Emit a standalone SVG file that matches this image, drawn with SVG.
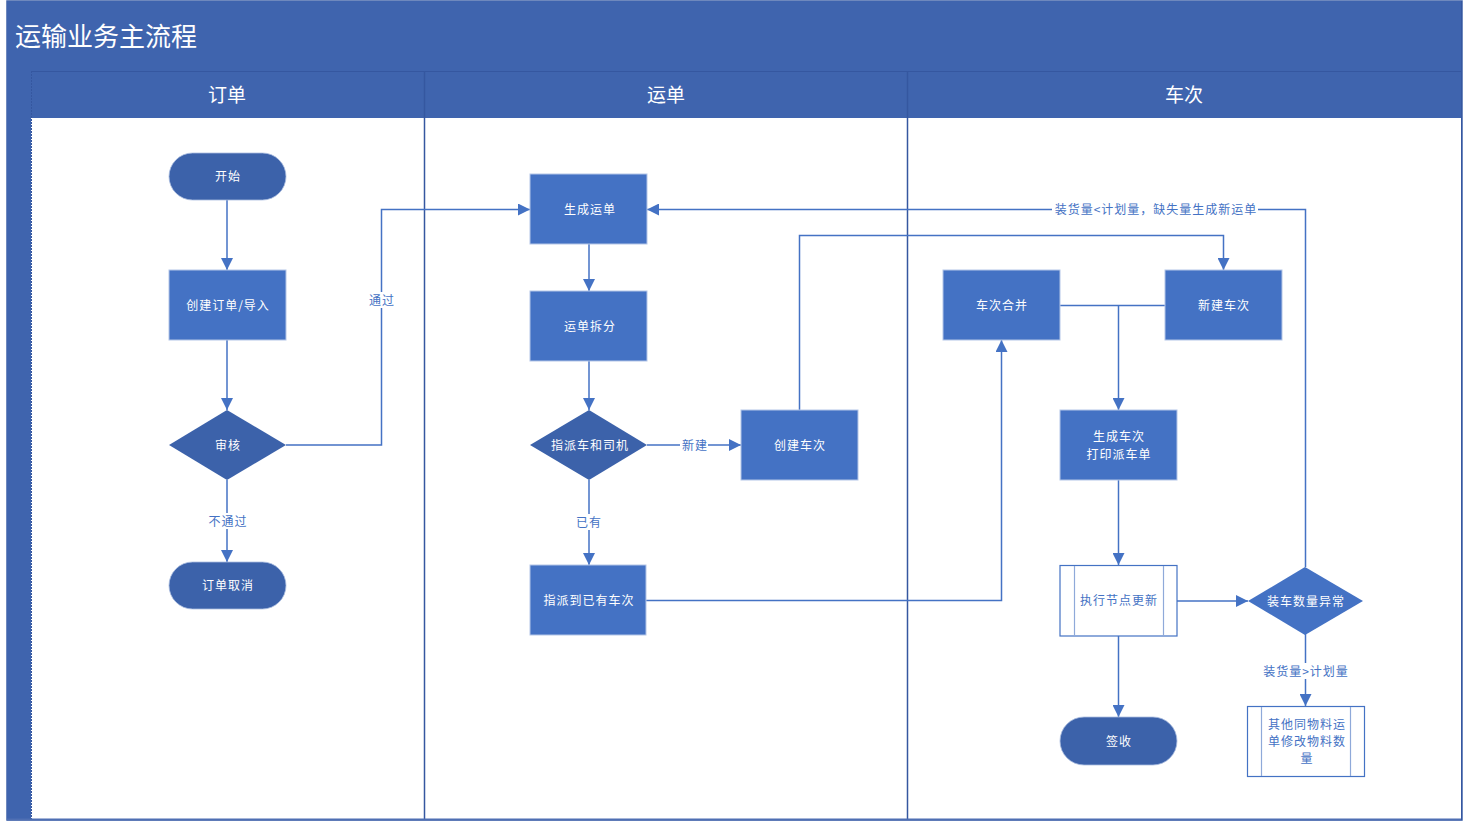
<svg xmlns="http://www.w3.org/2000/svg" width="1463" height="821" viewBox="0 0 1463 821">
<defs>
<style>
.t{font-family:"Noto Sans CJK SC","Microsoft YaHei",sans-serif;font-size:12px;fill:#ffffff;text-anchor:middle;dominant-baseline:central;letter-spacing:1px}
.tb{font-family:"Noto Sans CJK SC","Microsoft YaHei",sans-serif;font-size:12px;fill:#4472c4;text-anchor:middle;dominant-baseline:central;letter-spacing:1px}
.lbl{font-family:"Noto Sans CJK SC","Microsoft YaHei",sans-serif;font-size:12px;fill:#4472c4;text-anchor:middle;dominant-baseline:central;letter-spacing:1px}
.hd{font-family:"Noto Sans CJK SC","Microsoft YaHei",sans-serif;font-size:19px;fill:#ffffff;text-anchor:middle;dominant-baseline:central}
.term{fill:#3c62aa;stroke:#a9bde0;stroke-width:0.8}
.proc{fill:#4472c4;stroke:#b4c6e7;stroke-width:1}
.dec{fill:#3c62aa;stroke:none}
.dec2{fill:#4472c4;stroke:none}
.sub{fill:#ffffff;stroke:#4472c4;stroke-width:1.2}
.subl{stroke:#8fa9d9;stroke-width:1.2}
.c{fill:none;stroke:#4472c4;stroke-width:1.5}
.ca{fill:none;stroke:#4472c4;stroke-width:1.5;marker-end:url(#ah)}
.lb{fill:#ffffff}
</style>
<marker id="ah" viewBox="0 0 10 10" refX="10" refY="5" markerWidth="12" markerHeight="12" markerUnits="userSpaceOnUse" orient="auto">
<path d="M0,0 L10,5 L0,10 Z" fill="#4472c4"/>
</marker>
</defs>
<rect x="0" y="0" width="1463" height="821" fill="#ffffff"/>
<g id="pool">
<rect x="7" y="1" width="1455" height="819" fill="#ffffff" stroke="#3f62a8" stroke-width="1.5"/>
<rect x="7" y="1" width="1455" height="70" fill="#3f64ae"/>
<text x="15" y="34" font-family="'Noto Sans CJK SC','Microsoft YaHei',sans-serif" font-size="26" fill="#ffffff" dominant-baseline="central">运输业务主流程</text>
<rect x="7" y="71" width="1455" height="47" fill="#3f64ae"/>
<line x1="7" y1="71.5" x2="1462" y2="71.5" stroke="#3557a0" stroke-width="1"/>
<rect x="7" y="71" width="24" height="749" fill="#3f64ae"/>
<line x1="31.5" y1="71" x2="31.5" y2="820" stroke="#3557a0" stroke-width="1" stroke-dasharray="2,1"/>
<line x1="424.5" y1="71" x2="424.5" y2="820" stroke="#3557a0" stroke-width="1.5"/>
<line x1="907.5" y1="71" x2="907.5" y2="820" stroke="#3557a0" stroke-width="1.5"/>
<line x1="7" y1="819.5" x2="1462" y2="819.5" stroke="#4f6fb3" stroke-width="2"/>
<line x1="1461.5" y1="1" x2="1461.5" y2="820" stroke="#3557a0" stroke-width="1"/>
<text class="hd" x="227" y="93">订单</text>
<text class="hd" x="666" y="93">运单</text>
<text class="hd" x="1184" y="93">车次</text>
</g>
<g id="connectors">
<path class="ca" d="M227,200 L227,270"/>
<path class="ca" d="M227,340 L227,410"/>
<path class="ca" d="M227,480 L227,562"/>
<path class="ca" d="M286,445 L381.5,445 L381.5,209.5 L530,209.5"/>
<path class="ca" d="M589,244 L589,291"/>
<path class="ca" d="M589,361 L589,410"/>
<path class="ca" d="M647,445 L741,445"/>
<path class="ca" d="M589,480 L589,565"/>
<path class="ca" d="M799.5,410 L799.5,235.5 L1223.5,235.5 L1223.5,270"/>
<path class="ca" d="M646,600.5 L1001.5,600.5 L1001.5,340"/>
<path class="c" d="M1060,305.5 L1165,305.5"/>
<path class="ca" d="M1118.5,305.5 L1118.5,410"/>
<path class="ca" d="M1118.5,480 L1118.5,565"/>
<path class="ca" d="M1177,601 L1248,601"/>
<path class="ca" d="M1118.5,636 L1118.5,717"/>
<path class="ca" d="M1305.5,567 L1305.5,209.5 L647,209.5"/>
<path class="ca" d="M1305.5,634 L1305.5,706"/>
<rect class="lb" x="207" y="513" width="41" height="16"/>
<text class="lbl" x="228" y="520">不通过</text>
<rect class="lb" x="368" y="292" width="28" height="16"/>
<text class="lbl" x="382" y="299">通过</text>
<rect class="lb" x="680" y="437" width="28" height="16"/>
<text class="lbl" x="695" y="444">新建</text>
<rect class="lb" x="575" y="514" width="28" height="16"/>
<text class="lbl" x="589" y="521">已有</text>
<rect class="lb" x="1052" y="201" width="206" height="16"/>
<text class="lbl" x="1156" y="208">装货量&lt;计划量，缺失量生成新运单</text>
<rect class="lb" x="1261" y="663" width="89" height="16"/>
<text class="lbl" x="1306" y="670">装货量&gt;计划量</text>
</g>
<g id="n_start"><rect class="term" x="169" y="153" width="117" height="47" rx="23.5"/><text class="t" x="228" y="175.5">开始</text></g>
<g id="n_create_order"><rect class="proc" x="169" y="270" width="117" height="70"/><text class="t" x="228" y="304.5">创建订单/导入</text></g>
<g id="n_review"><polygon class="dec" points="227,410 286,445 227,480 169,445"/><text class="t" x="228" y="444.5">审核</text></g>
<g id="n_cancel"><rect class="term" x="169" y="562" width="117" height="47" rx="23.5"/><text class="t" x="228" y="584.5">订单取消</text></g>
<g id="n_gen_waybill"><rect class="proc" x="530" y="174" width="117" height="70"/><text class="t" x="590" y="208.5">生成运单</text></g>
<g id="n_split"><rect class="proc" x="530" y="291" width="117" height="70"/><text class="t" x="590" y="325.5">运单拆分</text></g>
<g id="n_assign"><polygon class="dec" points="589,410 647,445 589,480 530,445"/><text class="t" x="590" y="444.5">指派车和司机</text></g>
<g id="n_create_trip"><rect class="proc" x="741" y="410" width="117" height="70"/><text class="t" x="800" y="444.5">创建车次</text></g>
<g id="n_assign_existing"><rect class="proc" x="530" y="565" width="116" height="70"/><text class="t" x="589" y="599.5">指派到已有车次</text></g>
<g id="n_merge"><rect class="proc" x="943" y="270" width="117" height="70"/><text class="t" x="1002" y="304.5">车次合并</text></g>
<g id="n_new_trip"><rect class="proc" x="1165" y="270" width="117" height="70"/><text class="t" x="1224" y="304.5">新建车次</text></g>
<g id="n_gen_trip"><rect class="proc" x="1060" y="410" width="117" height="70"/><text class="t" x="1119" y="435.5">生成车次</text><text class="t" x="1119" y="453.5">打印派车单</text></g>
<g id="n_exec"><rect class="sub" x="1060" y="565.5" width="117" height="70.5"/><line class="subl" x1="1074.5" y1="566" x2="1074.5" y2="636"/><line class="subl" x1="1163.5" y1="566" x2="1163.5" y2="636"/><text class="tb" x="1119" y="599.5">执行节点更新</text></g>
<g id="n_qty_abn"><polygon class="dec2" points="1305,567 1363,601 1305,635 1248,601"/><text class="t" x="1306" y="600">装车数量异常</text></g>
<g id="n_sign"><rect class="term" x="1060" y="717" width="117" height="48" rx="24"/><text class="t" x="1119" y="740.5">签收</text></g>
<g id="n_modify"><rect class="sub" x="1247.5" y="706.5" width="117" height="70"/><line class="subl" x1="1261.5" y1="707" x2="1261.5" y2="776"/><line class="subl" x1="1350.5" y1="707" x2="1350.5" y2="776"/><text class="tb" x="1307" y="723.5">其他同物料运</text><text class="tb" x="1307" y="740.5">单修改物料数</text><text class="tb" x="1307" y="757.5">量</text></g>
</svg>
